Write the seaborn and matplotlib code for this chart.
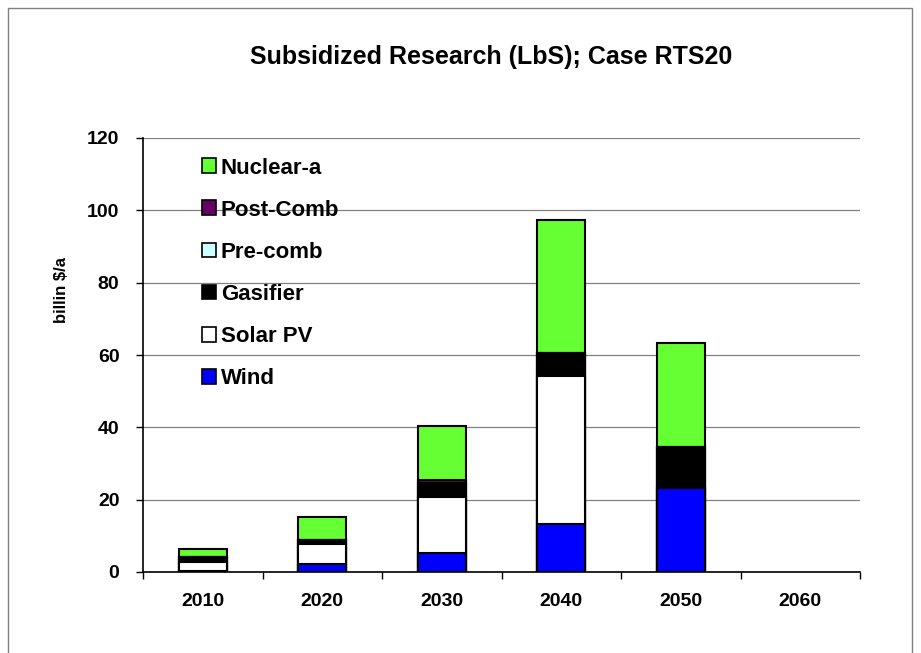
import matplotlib
matplotlib.use('Agg')
import matplotlib.pyplot as plt
from matplotlib.patches import Patch, Rectangle
from matplotlib.ticker import FixedLocator
import seaborn as sns
import pandas as pd
import numpy as np

years = ['2010', '2020', '2030', '2040', '2050', '2060']
# stacking order, bottom to top
series = ['Wind', 'Solar PV', 'Gasifier', 'Pre-comb', 'Post-Comb', 'Nuclear-a']
wind = [0.3, 2.2, 5.2, 13.2, 23.1, 0]
solar_pv = [2.6, 5.6, 15.6, 41.0, 0, 0]
gasifier = [1.2, 1.1, 3.7, 6.3, 11.5, 0]
pre_comb = [0, 0, 0, 0, 0, 0]
post_comb = [0, 0, 0.9, 0, 0, 0]
nuclear_a = [2.2, 6.2, 15.0, 36.9, 28.6, 0]
colors = ['#0000FF', '#FFFFFF', '#000000', '#CCFFFF', '#660066', '#66FF33']

sns.set_style('white')
plt.rcParams['font.family'] = ['Liberation Sans', 'DejaVu Sans']
plt.rcParams['font.weight'] = 'bold'
plt.rcParams['text.color'] = 'black'
plt.rcParams['xtick.color'] = 'black'
plt.rcParams['ytick.color'] = 'black'

values = [wind, solar_pv, gasifier, pre_comb, post_comb, nuclear_a]
cum = np.cumsum(np.array(values), axis=0)
# years with nothing funded get no bar at all
cum[:, cum[-1] == 0] = np.nan

fig = plt.figure(figsize=(9.21, 6.53), dpi=100)
ax = fig.add_axes([143 / 921, 1 - 572 / 653, 717 / 921, 434 / 653])

# draw from the top cumulative layer down so each segment overlays
for i in range(len(series) - 1, -1, -1):
    df = pd.DataFrame({'year': years, 'value': cum[i]})
    sns.barplot(data=df, x='year', y='value', color=colors[i], width=0.405,
                edgecolor='black', linewidth=1.5, saturation=1, ax=ax, zorder=2)

ax.set_ylim(0, 120)
ax.set_xlim(-0.5, 5.5)
ax.set_yticks(range(0, 121, 20))
ax.yaxis.grid(True, color='#808080', linewidth=0.9)
ax.set_axisbelow(True)
ax.set_xlabel('')
ax.set_ylabel('')
for s in ['top', 'right']:
    ax.spines[s].set_visible(False)
for s in ['left', 'bottom']:
    ax.spines[s].set_color('black')
    ax.spines[s].set_linewidth(1.2)

ax.xaxis.set_minor_locator(FixedLocator(np.arange(-0.5, 6, 1)))
ax.tick_params(axis='x', which='major', length=0, pad=15, labelsize=14)
ax.tick_params(axis='x', which='minor', bottom=True, length=5, width=1, color='black', direction='out')
ax.tick_params(axis='y', left=True, length=5, width=1, color='black', direction='out', pad=12, labelsize=14)
for lbl in ax.get_xticklabels() + ax.get_yticklabels():
    lbl.set_fontweight('bold')

handles = [Patch(facecolor=colors[i], edgecolor='black', linewidth=1.2, label=series[i])
           for i in range(len(series) - 1, -1, -1)]
leg = ax.legend(handles=handles, loc='upper left', bbox_to_anchor=(0.082, 0.955),
                frameon=False, borderpad=0, borderaxespad=0, handlelength=0.65,
                handleheight=0.65, handletextpad=0.2, labelspacing=0.95,
                prop={'size': 16, 'weight': 'bold'})

fig.text(491 / 921, 1 - 57 / 653, 'Subsidized Research (LbS); Case RTS20',
         ha='center', va='center', fontsize=18, fontweight='bold')
fig.text(62 / 921, 1 - 290 / 653, 'billin $/a', rotation=90, ha='center', va='center',
         fontsize=12, fontweight='bold')

fig.patches.append(Rectangle((8 / 921, -0.05), 904 / 921, 1.05 - 8 / 653,
                             transform=fig.transFigure, fill=False,
                             edgecolor='#808080', linewidth=1))

fig.savefig('out.png', dpi=100)
